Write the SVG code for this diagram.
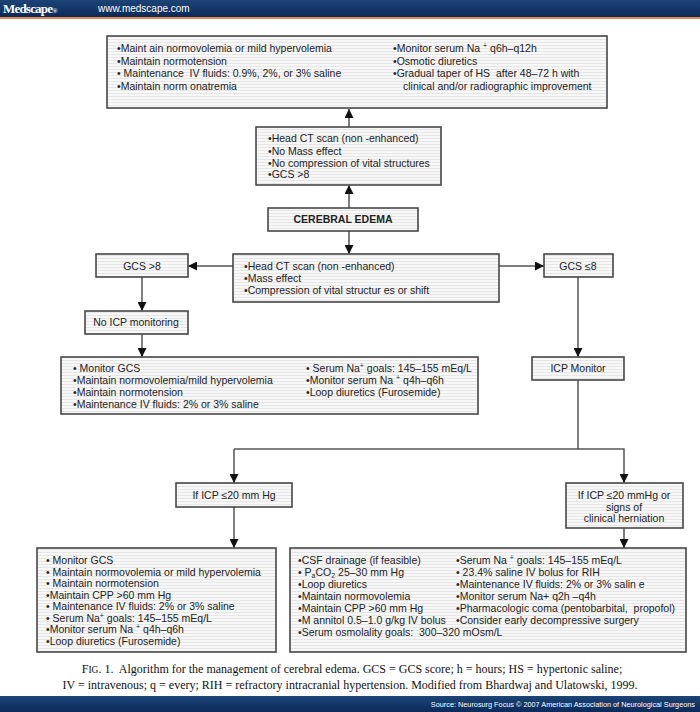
<svg xmlns="http://www.w3.org/2000/svg" width="700" height="712" viewBox="0 0 700 712">
<style>
.box{fill:url(#stripe);stroke:#474747;stroke-width:1.6}
.t{font-family:"Liberation Sans",Arial,sans-serif;font-size:10.5px;fill:#222;white-space:pre}
.c{text-anchor:middle}
.b{font-weight:bold}
.ln{stroke:#555;stroke-width:1.5;fill:none}
.cap{font-family:"Liberation Serif","Times New Roman",serif;font-size:12px;fill:#111;white-space:pre}
.sup{font-size:7px}
</style>
<defs>
<pattern id="stripe" width="4" height="3" patternUnits="userSpaceOnUse">
<rect width="4" height="3" fill="#f8f8f8"/>
<rect width="4" height="1" fill="#e6e6e6"/>
</pattern>
<marker id="ah" viewBox="0 0 10 10" refX="10" refY="5" markerWidth="9" markerHeight="9" markerUnits="userSpaceOnUse" orient="auto">
<path d="M0,0 L10,5 L0,10 z" fill="#111"/>
</marker>
<linearGradient id="navy" x1="0" y1="0" x2="0" y2="1">
<stop offset="0" stop-color="#1c4476"/>
<stop offset="1" stop-color="#0b2a5a"/>
</linearGradient>
</defs>

<g id="header">
<rect x="0" y="0" width="700" height="17" fill="url(#navy)"/>
<rect x="0" y="17" width="700" height="2" fill="#e58a4e"/>
<text x="3" y="13" style="font-family:'Liberation Serif',serif;font-size:13px;font-weight:bold;fill:#fff;letter-spacing:-0.8px">Medscape<tspan style="font-size:7px">®</tspan></text>
<text x="98" y="12" style="font-family:'Liberation Sans',Arial,sans-serif;font-size:10px;fill:#fff">www.medscape.com</text>
</g>

<g id="connectors">
<line class="ln" x1="349" y1="127" x2="349" y2="109" marker-end="url(#ah)"/>
<line class="ln" x1="349" y1="208" x2="349" y2="185" marker-end="url(#ah)"/>
<line class="ln" x1="349" y1="231" x2="349" y2="254" marker-end="url(#ah)"/>
<line class="ln" x1="233" y1="266" x2="188" y2="266" marker-end="url(#ah)"/>
<line class="ln" x1="499" y1="266" x2="544" y2="266" marker-end="url(#ah)"/>
<line class="ln" x1="142" y1="277" x2="142" y2="311" marker-end="url(#ah)"/>
<line class="ln" x1="142" y1="334" x2="142" y2="357" marker-end="url(#ah)"/>
<line class="ln" x1="578" y1="277" x2="578" y2="357" marker-end="url(#ah)"/>
<polyline class="ln" points="578,380 578,449"/>
<polyline class="ln" points="234,449 624,449 624,483" marker-end="url(#ah)"/>
<line class="ln" x1="234" y1="449" x2="234" y2="483" marker-end="url(#ah)"/>
<line class="ln" x1="234" y1="507" x2="234" y2="548" marker-end="url(#ah)"/>
<line class="ln" x1="624" y1="528" x2="624" y2="548" marker-end="url(#ah)"/>
</g>

<g id="top">
<rect class="box" x="107" y="36" width="500" height="72"/>
<text class="t" x="117" y="52">•Maint ain normovolemia or mild hypervolemia</text>
<text class="t" x="117" y="64.5">•Maintain normotension</text>
<text class="t" x="117" y="77">• Maintenance  IV fluids: 0.9%, 2%, or 3% saline</text>
<text class="t" x="117" y="89.5">•Maintain norm onatremia</text>
<text class="t" x="393" y="52">•Monitor serum Na <tspan class="sup" dy="-4">+</tspan><tspan dy="4"> q6h–q12h</tspan></text>
<text class="t" x="393" y="64.5">•Osmotic diuretics</text>
<text class="t" x="393" y="77">•Gradual taper of HS  after 48–72 h with</text>
<text class="t" x="403" y="89.5">clinical and/or radiographic improvement</text>
</g>

<g id="ct-nomass">
<rect class="box" x="256" y="127" width="185" height="58"/>
<text class="t" x="268" y="142">•Head CT scan (non -enhanced)</text>
<text class="t" x="268" y="154.5">•No Mass effect</text>
<text class="t" x="268" y="166.5">•No compression of vital structures</text>
<text class="t" x="268" y="178">•GCS &gt;8</text>
</g>

<g id="edema">
<rect class="box" x="268" y="208" width="150" height="23"/>
<text class="t c b" x="343" y="223">CEREBRAL EDEMA</text>
</g>

<g id="ct-mass">
<rect class="box" x="233" y="254" width="266" height="48"/>
<text class="t" x="244" y="270">•Head CT scan (non -enhanced)</text>
<text class="t" x="244" y="282">•Mass effect</text>
<text class="t" x="244" y="294">•Compression of vital structur es or shift</text>
</g>

<g id="gcs-high">
<rect class="box" x="96" y="254" width="92" height="23"/>
<text class="t c" x="142" y="270">GCS &gt;8</text>
</g>

<g id="gcs-low">
<rect class="box" x="544" y="254" width="69" height="23"/>
<text class="t c" x="578" y="270">GCS ≤8</text>
</g>

<g id="no-icp">
<rect class="box" x="85" y="311" width="103" height="23"/>
<text class="t c" x="136" y="326">No ICP monitoring</text>
</g>

<g id="care-noicp">
<rect class="box" x="61" y="357" width="417" height="57"/>
<text class="t" x="73" y="372">• Monitor GCS</text>
<text class="t" x="73" y="384">•Maintain normovolemia/mild hypervolemia</text>
<text class="t" x="73" y="396">•Maintain normotension</text>
<text class="t" x="73" y="407.5">•Maintenance IV fluids: 2% or 3% saline</text>
<text class="t" x="306" y="372">• Serum Na<tspan class="sup" dy="-4">+</tspan><tspan dy="4"> goals: 145–155 mEq/L</tspan></text>
<text class="t" x="306" y="384">•Monitor serum Na <tspan class="sup" dy="-4">+</tspan><tspan dy="4"> q4h–q6h</tspan></text>
<text class="t" x="306" y="396">•Loop diuretics (Furosemide)</text>
</g>

<g id="icp-monitor">
<rect class="box" x="532" y="357" width="92" height="23"/>
<text class="t c" x="578" y="372">ICP Monitor</text>
</g>

<g id="icp-low">
<rect class="box" x="176" y="483" width="116" height="24"/>
<text class="t c" x="234" y="499">If ICP ≤20 mm Hg</text>
</g>

<g id="icp-high">
<rect class="box" x="566" y="483" width="117" height="45"/>
<text class="t c" x="624" y="499">If ICP ≤20 mmHg or</text>
<text class="t c" x="624" y="510.5">signs of</text>
<text class="t c" x="624" y="521.5">clinical herniation</text>
</g>

<g id="care-low">
<rect class="box" x="37" y="548" width="239" height="104"/>
<text class="t" x="46" y="564">• Monitor GCS</text>
<text class="t" x="46" y="575.5">• Maintain normovolemia or mild hypervolemia</text>
<text class="t" x="46" y="587">• Maintain normotension</text>
<text class="t" x="46" y="598.5">•Maintain CPP &gt;60 mm Hg</text>
<text class="t" x="46" y="610">• Maintenance IV fluids: 2% or 3% saline</text>
<text class="t" x="46" y="621.5">• Serum Na<tspan class="sup" dy="-4">+</tspan><tspan dy="4"> goals: 145–155 mEq/L</tspan></text>
<text class="t" x="46" y="633">•Monitor serum Na <tspan class="sup" dy="-4">+</tspan><tspan dy="4"> q4h–q6h</tspan></text>
<text class="t" x="46" y="644.5">•Loop diuretics (Furosemide)</text>
</g>

<g id="care-high">
<rect class="box" x="290" y="548" width="396" height="104"/>
<text class="t" x="298" y="564">•CSF drainage (if feasible)</text>
<text class="t" x="298" y="576">• P<tspan class="sup" baseline-shift="-2">a</tspan>CO<tspan class="sup" baseline-shift="-2">2</tspan> 25–30 mm Hg</text>
<text class="t" x="298" y="588">•Loop diuretics</text>
<text class="t" x="298" y="600">•Maintain normovolemia</text>
<text class="t" x="298" y="612">•Maintain CPP &gt;60 mm Hg</text>
<text class="t" x="298" y="624">•M annitol 0.5–1.0 g/kg IV bolus</text>
<text class="t" x="298" y="636">•Serum osmolality goals:  300–320 mOsm/L</text>
<text class="t" x="456" y="564">•Serum Na <tspan class="sup" dy="-4">+</tspan><tspan dy="4"> goals: 145–155 mEq/L</tspan></text>
<text class="t" x="456" y="576">• 23.4% saline IV bolus for RIH</text>
<text class="t" x="456" y="588">•Maintenance IV fluids: 2% or 3% salin e</text>
<text class="t" x="456" y="600">•Monitor serum Na+ q2h –q4h</text>
<text class="t" x="456" y="612">•Pharmacologic coma (pentobarbital,  propofol)</text>
<text class="t" x="456" y="624">•Consider early decompressive surgery</text>
</g>

<g id="caption">
<text class="cap" x="352" y="673" text-anchor="middle">F<tspan style="font-size:9.5px">IG</tspan>. 1.  Algorithm for the management of cerebral edema. GCS = GCS score; h = hours; HS = hypertonic saline;</text>
<text class="cap" x="350" y="689" text-anchor="middle">IV = intravenous; q = every; RIH = refractory intracranial hypertension. Modified from Bhardwaj and Ulatowski, 1999.</text>
</g>

<g id="footer">
<rect x="0" y="696" width="700" height="16" fill="url(#navy)"/>
<text x="695" y="707" text-anchor="end" style="font-family:'Liberation Sans',Arial,sans-serif;font-size:7.3px;fill:#fff">Source: Neurosurg Focus © 2007 American Association of Neurological Surgeons</text>
</g>
</svg>
